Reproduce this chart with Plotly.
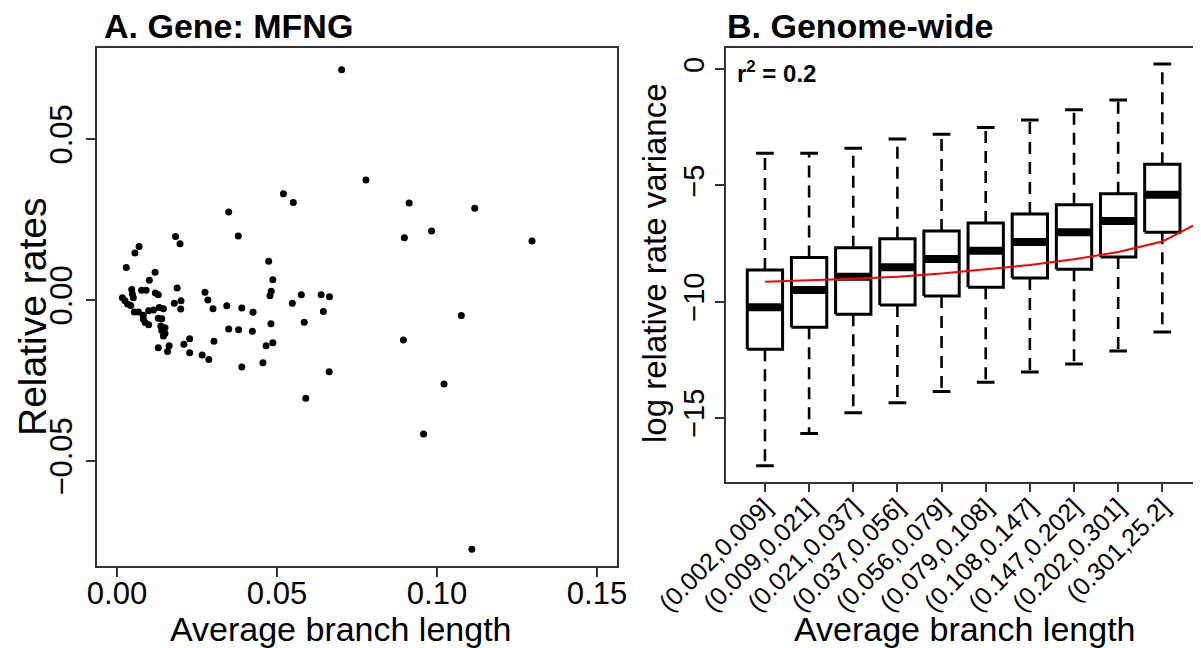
import plotly.graph_objects as go

# ---------------- Panel A data: Gene MFNG ----------------
branch_len = [0.0702, 0.0520, 0.0551, 0.0349, 0.0183, 0.0379, 0.0197, 0.0069, 0.0056, 0.0029,
              0.0119, 0.0101, 0.0474, 0.0487, 0.0482, 0.0478, 0.0188, 0.0046, 0.0077, 0.0091,
              0.0048, 0.0051, 0.0017, 0.0025, 0.0033, 0.0043, 0.0120, 0.0129, 0.0179, 0.0200,
              0.0199, 0.0275, 0.0284, 0.0300, 0.0343, 0.0390, 0.0425, 0.0548, 0.0576, 0.0638,
              0.0664, 0.0645, 0.0585, 0.0481, 0.0349, 0.0380, 0.0423, 0.0487, 0.0466, 0.0303,
              0.0227, 0.0209, 0.0227, 0.0266, 0.0287, 0.0390, 0.0456, 0.0663, 0.0590,
              0.0054, 0.0067, 0.0082, 0.0099, 0.0114, 0.0132, 0.0145, 0.0082, 0.0088, 0.0099,
              0.0129, 0.0140, 0.0137, 0.0150, 0.0140, 0.0150, 0.0145, 0.0129, 0.0163, 0.0158,
              0.0778, 0.0913, 0.1118, 0.0898, 0.0983, 0.1297, 0.1076, 0.0895, 0.1022, 0.0958,
              0.1109]
rel_rates = [0.0715, 0.0330, 0.0303, 0.0273, 0.0197, 0.0199, 0.0175, 0.0166, 0.0146, 0.0101,
             0.0086, 0.0061, 0.0120, 0.0063, 0.0027, 0.0013, 0.0037, 0.0033, 0.0030, 0.0030,
             0.0019, 0.0007, 0.0007, -0.0002, -0.0012, -0.0017, 0.0022, 0.0016, -0.0010, -0.0002,
             -0.0028, 0.0024, 0.0000, -0.0027, -0.0018, -0.0025, -0.0038, -0.0010, 0.0016, 0.0016,
             0.0010, -0.0036, -0.0069, -0.0074, -0.0090, -0.0092, -0.0097, -0.0133, -0.0142, -0.0128,
             -0.0120, -0.0137, -0.0164, -0.0171, -0.0185, -0.0208, -0.0195, -0.0223, -0.0305,
             -0.0037, -0.0037, -0.0047, -0.0033, -0.0031, -0.0023, -0.0027, -0.0059, -0.0070, -0.0077,
             -0.0057, -0.0058, -0.0081, -0.0086, -0.0095, -0.0104, -0.0112, -0.0148, -0.0142, -0.0160,
             0.0373, 0.0301, 0.0285, 0.0193, 0.0214, 0.0183, -0.0048, -0.0124, -0.0261, -0.0416,
             -0.0774]
a_xticks = [0.00, 0.05, 0.10, 0.15]
a_xticklabels = ["0.00", "0.05", "0.10", "0.15"]
a_yticks = [-0.05, 0.00, 0.05]
a_yticklabels = ["\u22120.05", "0.00", "0.05"]

# ---------------- Panel B data: Genome-wide ----------------
bins = ["(0.002,0.009]", "(0.009,0.021]", "(0.021,0.037]", "(0.037,0.056]", "(0.056,0.079]",
        "(0.079,0.108]", "(0.108,0.147]", "(0.147,0.202]", "(0.202,0.301]", "(0.301,25.2]"]
whisk_hi = [-3.62, -3.62, -3.40, -3.00, -2.80, -2.51, -2.18, -1.74, -1.32, 0.23]
q3 = [-8.64, -8.11, -7.68, -7.30, -6.96, -6.62, -6.23, -5.83, -5.36, -4.09]
median = [-10.25, -9.50, -8.93, -8.53, -8.17, -7.81, -7.44, -7.02, -6.53, -5.40]
q1 = [-12.06, -11.11, -10.55, -10.15, -9.76, -9.39, -8.99, -8.61, -8.08, -7.02]
whisk_lo = [-17.07, -15.68, -14.79, -14.36, -13.88, -13.48, -13.04, -12.69, -12.13, -11.31]
fit_pos = [1, 2, 3, 4, 5, 6, 7, 8, 9, 10, 11.2]
fit_val = [-9.15, -9.10, -9.02, -8.93, -8.79, -8.61, -8.43, -8.18, -7.87, -7.42, -6.24]
b_yticks = [-15, -10, -5, 0]
b_yticklabels = ["\u221215", "\u221210", "\u22125", "0"]

FONT = "Liberation Sans, Arial, sans-serif"
# page body has an 8px margin; size the figure so it fills the 1201x648 window
OFF = 8
W, H = 1201 - OFF, 648 - OFF


def px(x):
    return (x - OFF) / W


def py(y):
    return 1 - (y - OFF) / H


fig = go.Figure()

# Panel A scatter
fig.add_trace(go.Scatter(x=branch_len, y=rel_rates, mode="markers",
                         marker=dict(color="black", size=7),
                         xaxis="x", yaxis="y", showlegend=False))

# Panel B boxplots drawn from stats
hw, cw = 0.4, 0.2
pos = list(range(1, len(bins) + 1))
rx, ry, mx, my, wx, wy, cx, cy = [], [], [], [], [], [], [], []
for i, p in enumerate(pos):
    rx += [p - hw, p + hw, p + hw, p - hw, p - hw, None]
    ry += [q1[i], q1[i], q3[i], q3[i], q1[i], None]
    mx += [p - hw, p + hw, None]
    my += [median[i], median[i], None]
    wx += [p, p, None, p, p, None]
    wy += [q3[i], whisk_hi[i], None, q1[i], whisk_lo[i], None]
    cx += [p - cw, p + cw, None, p - cw, p + cw, None]
    cy += [whisk_hi[i], whisk_hi[i], None, whisk_lo[i], whisk_lo[i], None]

fig.add_trace(go.Scatter(x=wx, y=wy, mode="lines", line=dict(color="black", width=2.6, dash="12px,8px"),
                         xaxis="x2", yaxis="y2", showlegend=False, hoverinfo="skip"))
fig.add_trace(go.Scatter(x=cx, y=cy, mode="lines", line=dict(color="black", width=3),
                         xaxis="x2", yaxis="y2", showlegend=False, hoverinfo="skip"))
fig.add_trace(go.Scatter(x=rx, y=ry, mode="lines", fill="toself", fillcolor="white",
                         line=dict(color="black", width=3),
                         xaxis="x2", yaxis="y2", showlegend=False, hoverinfo="skip"))
fig.add_trace(go.Scatter(x=mx, y=my, mode="lines", line=dict(color="black", width=8),
                         xaxis="x2", yaxis="y2", showlegend=False, hoverinfo="skip"))
fig.add_trace(go.Scatter(x=fit_pos, y=fit_val, mode="lines", line=dict(color="red", width=2),
                         xaxis="x2", yaxis="y2", showlegend=False, hoverinfo="skip"))

axcol = "#333333"
common = dict(showgrid=False, zeroline=False, showline=True, linecolor=axcol, linewidth=1.5,
              ticks="outside", ticklen=9, tickcolor=axcol, tickwidth=1.5, automargin=False)

fig.update_layout(
    width=W, height=H, margin=dict(l=0, r=0, t=0, b=0, pad=0, autoexpand=False),
    paper_bgcolor="white", plot_bgcolor="white",
    font=dict(family=FONT, color="black"),
    xaxis=dict(domain=[px(97), px(617)], range=[-0.00625, 0.15625], anchor="y", mirror=True,
               tickvals=a_xticks, ticktext=a_xticklabels, tickfont=dict(size=31, family=FONT),
               ticklabelstandoff=-10, **common),
    yaxis=dict(domain=[py(566), py(48)], range=[-0.0826, 0.07826], anchor="x", mirror=True,
               tickvals=a_yticks, ticktext=a_yticklabels, tickangle=-90,
               tickfont=dict(size=31, family=FONT), ticklabelstandoff=2, **common),
    xaxis2=dict(domain=[px(726), 1.0], range=[0.118, 10.876], anchor="y2", mirror=True,
                tickvals=pos, ticktext=bins, tickangle=-45, tickfont=dict(size=25, family=FONT),
                ticklabelstandoff=-10, **common),
    yaxis2=dict(domain=[py(481.7), py(48)], range=[-17.76, 0.917], anchor="x2", mirror=False,
                tickvals=b_yticks, ticktext=b_yticklabels, tickangle=-90,
                tickfont=dict(size=29, family=FONT), ticklabelstandoff=0, **common),
)

ann = []
ann.append(dict(text="<b>A. Gene: MFNG</b>", x=px(102), y=py(26), xref="paper", yref="paper",
                xanchor="left", yanchor="middle", showarrow=False, font=dict(size=34, family=FONT)))
ann.append(dict(text="<b>B. Genome-wide</b>", x=px(725), y=py(26), xref="paper", yref="paper",
                xanchor="left", yanchor="middle", showarrow=False, font=dict(size=34, family=FONT)))
ann.append(dict(text="Average branch length", x=px(341), y=py(629), xref="paper", yref="paper",
                xanchor="center", yanchor="middle", showarrow=False, font=dict(size=34, family=FONT)))
ann.append(dict(text="Relative rates", x=px(32), y=py(317), xref="paper", yref="paper",
                xanchor="center", yanchor="middle", textangle=-90, showarrow=False,
                font=dict(size=39, family=FONT)))
ann.append(dict(text="Average branch length", x=px(965), y=py(629), xref="paper", yref="paper",
                xanchor="center", yanchor="middle", showarrow=False, font=dict(size=34, family=FONT)))
ann.append(dict(text="log relative rate variance", x=px(654), y=py(263), xref="paper", yref="paper",
                xanchor="center", yanchor="middle", textangle=-90, showarrow=False,
                font=dict(size=33, family=FONT)))
ann.append(dict(text="<b>r<sup>2</sup> = 0.2</b>", x=px(735), y=py(72), xref="paper", yref="paper",
                xanchor="left", yanchor="middle", showarrow=False, font=dict(size=24, family=FONT)))
fig.update_layout(annotations=ann)

fig.write_html("out.html")
